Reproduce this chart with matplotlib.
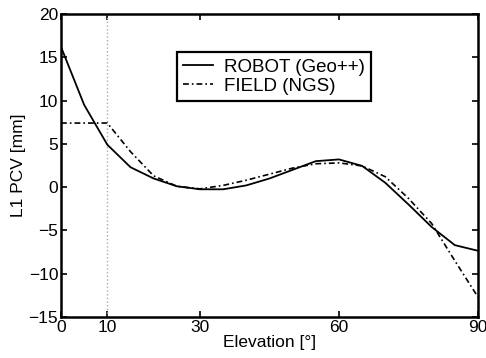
import matplotlib
matplotlib.use("Agg")
import matplotlib.pyplot as plt

plt.rcParams['font.family'] = ['Liberation Sans', 'DejaVu Sans']

# elevation grid (deg)
elev = [0, 5, 10, 15, 20, 25, 30, 35, 40, 45, 50, 55, 60, 65, 70, 75, 80, 85, 90]

# L1 PCV [mm]
robot = [16.2, 9.5, 4.9, 2.3, 1.0, 0.1, -0.25, -0.25, 0.2, 1.0, 2.0, 3.0, 3.2, 2.45, 0.5, -2.0, -4.6, -6.7, -7.35]
field = [7.4, 7.4, 7.4, 4.1, 1.3, 0.1, -0.2, 0.2, 0.8, 1.5, 2.2, 2.7, 2.8, 2.45, 1.2, -1.3, -4.2, -8.5, -12.7]

xticks = [0, 10, 30, 60, 90]
yticks = [-15, -10, -5, 0, 5, 10, 15, 20]

fig = plt.figure(figsize=(4.86, 3.58), dpi=100)
ax = fig.add_axes([0.1255, 0.1145, 0.858, 0.8465])

ax.axvline(10, color='#aaaaaa', linestyle=':', linewidth=1.0)
ax.plot(elev, robot, color='black', linestyle='-', linewidth=1.3, label='ROBOT (Geo++)')
ax.plot(elev, field, color='black', linestyle=(0, (3.5, 1.8, 1, 1.8)), linewidth=1.2,
        label='FIELD (NGS)')

ax.set_xlim(0, 90)
ax.set_ylim(-15, 20)
ax.set_xticks(xticks)
ax.set_yticks(yticks)
ax.tick_params(direction='in', top=True, right=True, length=4, width=1.2,
               labelsize=12.5, pad=2)
for s in ax.spines.values():
    s.set_linewidth(1.8)

ax.set_xlabel('Elevation [°]', fontsize=12.5, labelpad=0)
ax.set_ylabel('L1 PCV [mm]', fontsize=12.5, labelpad=2)

leg = ax.legend(loc='upper left', bbox_to_anchor=(0.278, 0.875), fontsize=13.5,
                frameon=True, fancybox=False, edgecolor='black', framealpha=1,
                handlelength=1.6, borderpad=0.35, labelspacing=0.1, handletextpad=0.55,
                borderaxespad=0)
leg.get_frame().set_linewidth(1.6)

fig.savefig('out.png', dpi=100)
